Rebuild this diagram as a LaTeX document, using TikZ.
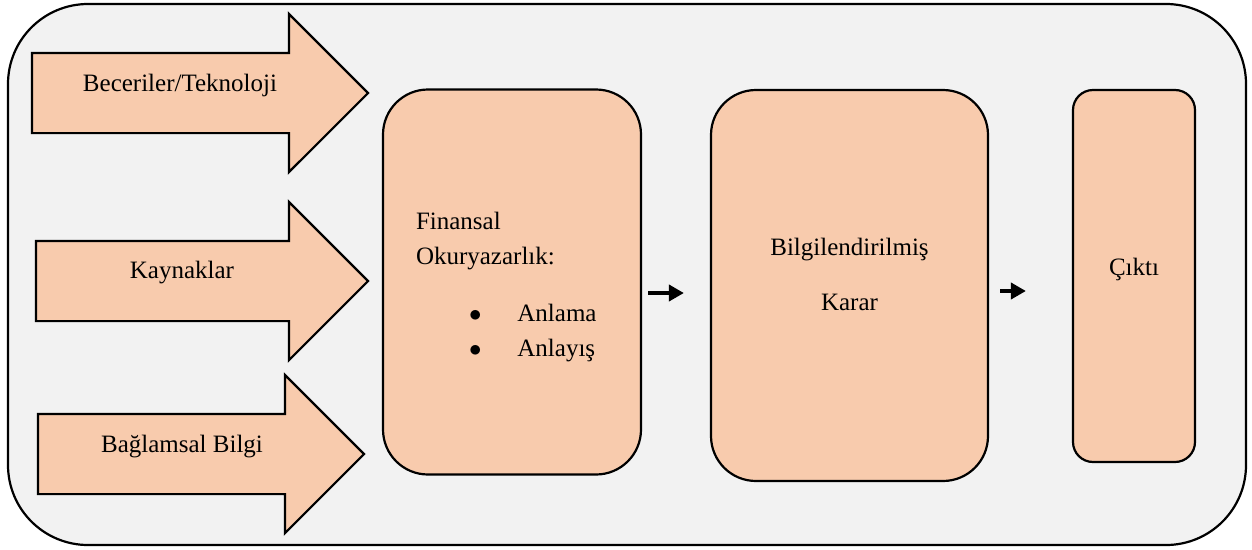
\documentclass[tikz,border=0pt]{standalone}
\usepackage{fontspec}
\setmainfont{Liberation Serif}
\usetikzlibrary{shapes.arrows,arrows.meta,positioning}
\definecolor{peach}{HTML}{F8CBAD}
\definecolor{panel}{HTML}{F2F2F2}
\newcommand{\bulletline}[1]{\hspace*{53pt}$\bullet$\hspace{36pt}#1}

\begin{document}
\begin{tikzpicture}[x=1pt, y=-1pt, font=\fontsize{25}{35}\selectfont]
\tikzstyle{input}=[single arrow, draw=black, line width=2.2pt, fill=peach, inner xsep=0pt, inner ysep=39pt, single arrow head extend=39pt]
\tikzstyle{stage}=[rectangle, draw=black, line width=2.2pt, fill=peach, rounded corners=45pt]
\tikzstyle{flow}=[-{Triangle[length=15pt, width=16pt]}, line width=4.5pt]

  \useasboundingbox (0,0) rectangle (1252,549);
  \draw[line width=2.2pt, fill=panel, rounded corners=80pt] (8,4) rectangle (1246,545);

  % inputs
  \node[input, minimum height=336pt] (skills) at (180,93) {};
  \node (skillstext) at ([yshift=8pt]skills.center) {Beceriler/Teknoloji};
  \node[input, minimum height=332pt] (resources) at (182,281) {};
  \node (resourcestext) at ([yshift=8pt]resources.center) {Kaynaklar};
  \node[input, minimum height=326pt] (context) at (181,454) {};
  \node (contexttext) at ([shift={(1pt,7pt)}]context.center) {Bağlamsal Bilgi};

  % stages
  \node[stage, minimum width=258pt, minimum height=385pt] (literacy) at (512,282) {};
  \node[text width=192pt, align=left] (literacytext) at ([yshift=-5pt]literacy.center)
    {Finansal\\Okuryazarlık:\\[22pt]\bulletline{Anlama}\\\bulletline{Anlayış}};
  \node[stage, minimum width=277pt, minimum height=391pt] (decision) at (849.5,285.5) {};
  \node[align=center] (decisiontext) at ([yshift=11pt]decision.center) {Bilgilendirilmiş\\[20pt]Karar};
  \node[stage, rounded corners=20pt, minimum width=122pt, minimum height=372pt] (outcome) at (1134,276) {};
  \node (outcometext) at ([yshift=7pt]outcome.center) {Çıktı};

  \draw[flow] ([shift={(6,11)}]literacy.east) -- ([shift={(-26,7.5)}]decision.west);
  \draw[flow] ([shift={(11,5.5)}]decision.east) -- ([shift={(-46,15)}]outcome.west);
\end{tikzpicture}
\end{document}
